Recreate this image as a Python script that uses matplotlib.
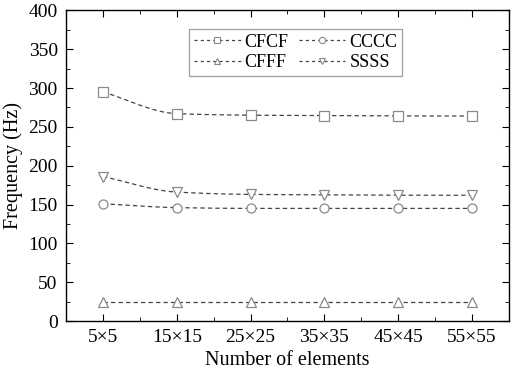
import numpy as np
import matplotlib
matplotlib.use("Agg")
import matplotlib.pyplot as plt
from matplotlib.ticker import MultipleLocator

categories = ["5×5", "15×15", "25×25", "35×35", "45×45", "55×55"]
cfcf = [295, 267, 265, 264.5, 264, 264]
cccc = [151, 146, 145, 145, 145, 145]
cfff = [25, 25, 25, 25, 25, 25]
ssss = [186, 166, 163, 162.5, 162, 162]


def smooth(x, y, n=200):
    # monotone cubic (Fritsch-Carlson) through the points, for the smoothed line
    x = np.asarray(x, float)
    y = np.asarray(y, float)
    h = np.diff(x)
    d = np.diff(y) / h
    m = np.zeros_like(y)
    m[0], m[-1] = d[0], d[-1]
    for i in range(1, len(x) - 1):
        if d[i - 1] * d[i] > 0:
            w1 = 2 * h[i] + h[i - 1]
            w2 = h[i] + 2 * h[i - 1]
            m[i] = (w1 + w2) / (w1 / d[i - 1] + w2 / d[i])
    xs = np.linspace(x[0], x[-1], n)
    idx = np.clip(np.searchsorted(x, xs) - 1, 0, len(x) - 2)
    t = (xs - x[idx]) / h[idx]
    h00 = 2 * t ** 3 - 3 * t ** 2 + 1
    h10 = t ** 3 - 2 * t ** 2 + t
    h01 = -2 * t ** 3 + 3 * t ** 2
    h11 = t ** 3 - t ** 2
    ys = h00 * y[idx] + h10 * h[idx] * m[idx] + h01 * y[idx + 1] + h11 * h[idx] * m[idx + 1]
    return xs, ys


plt.rcParams['font.family'] = ['Liberation Serif', 'DejaVu Serif']

fig, ax = plt.subplots(figsize=(5.12, 3.69), dpi=100)
fig.subplots_adjust(left=0.129, right=0.994, top=0.972, bottom=0.13)

x = np.arange(len(categories))
series = [(cfcf, 's', 'CFCF'), (cccc, 'o', 'CCCC'), (cfff, '^', 'CFFF'), (ssss, 'v', 'SSSS')]
line_col = '#444444'
mark_col = '#8a8a8a'
dash = (0, (3.5, 2.5))
handles = {}
for y, m, lab in series:
    xs, ys = smooth(x, y)
    ax.plot(xs, ys, color=line_col, lw=0.9, ls=dash)
    ax.plot(x, y, ls='none', marker=m, ms=6.5, mfc='white', mec=mark_col, mew=0.9)
    handles[lab], = ax.plot([], [], color=line_col, lw=0.9, ls=(0, (2.5, 2.5)), marker=m, ms=4.5,
                            mfc='white', mec=mark_col, mew=0.8, label=lab)

ax.set_xlim(-0.5, 5.5)
ax.set_ylim(0, 400)
ax.set_xticks(x)
ax.set_xticklabels(categories)
ax.xaxis.set_minor_locator(MultipleLocator(0.5))
ax.yaxis.set_major_locator(MultipleLocator(50))
ax.yaxis.set_minor_locator(MultipleLocator(25))
ax.tick_params(which='both', direction='in', top=True, right=True, labelsize=14)
ax.tick_params(which='major', length=5, pad=6)
ax.tick_params(which='minor', length=3)
for s in ax.spines.values():
    s.set_linewidth(1.0)

ax.set_xlabel('Number of elements', fontsize=14.5, labelpad=3)
ax.set_ylabel('Frequency (Hz)', fontsize=14.5, labelpad=4)

# two columns, filled column first: row 1 CFCF/CCCC, row 2 CFFF/SSSS
order = ['CFCF', 'CFFF', 'CCCC', 'SSSS']
leg = ax.legend([handles[k] for k in order], order, ncol=2, loc='upper left',
                bbox_to_anchor=(0.278, 0.939), borderaxespad=0, frameon=True, fancybox=False,
                edgecolor='#888888', handlelength=2.6, columnspacing=0.55,
                handletextpad=0.22, borderpad=0.25, labelspacing=0.2, fontsize=13)
leg.get_frame().set_linewidth(0.9)

fig.savefig('out.png', dpi=100)
